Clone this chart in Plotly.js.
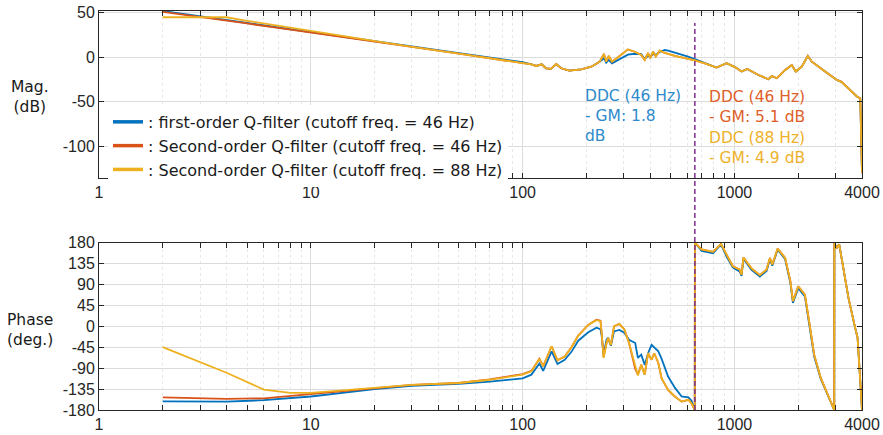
<!DOCTYPE html>
<html>
<head>
<meta charset="utf-8">
<script src="https://cdn.plot.ly/plotly-3.0.1.min.js"></script>
<style>html,body{margin:0;padding:0;background:#fff;}#chart{width:883px;height:435px;}</style>
</head>
<body>
<div id="chart"></div>
<script>
// ---------------- data ----------------
const seriesNames = [
  ': first-order Q-filter (cutoff freq. = 46 Hz)',
  ': Second-order Q-filter (cutoff freq. = 46 Hz)',
  ': Second-order Q-filter (cutoff freq. = 88 Hz)'
];
const xTickVals = [1, 10, 100, 1000, 4000];
const xTickText = ['1', '10', '100', '1000', '4000'];
const magTickVals = [-100, -50, 0, 50];
const magTickText = ['-100', '-50', '0', '50'];
const phaseTickVals = [-180, -135, -90, -45, 0, 45, 90, 135, 180];
const phaseTickText = ['-180', '-135', '-90', '-45', '0', '45', '90', '135', '180'];

const freqMag = [2, 3, 4, 5, 7, 10, 20, 30, 50, 70, 100, 110, 116, 123, 129, 136, 144, 152, 166, 189, 211, 231, 242, 248, 255, 264, 282, 314, 338, 363, 377, 391, 400, 413, 425, 444, 469, 486, 523, 562, 604, 650, 724, 823, 918, 1005, 1081, 1150, 1297, 1446, 1500, 1585, 1735, 1864, 1946, 2078, 2219, 2317, 2679, 3041, 3200, 3452, 3784, 3926, 4000];
const magFirst46 = [52, 46, 41.5, 38, 33, 28, 17.8, 11.8, 4.2, -0.7, -5.5, -8, -9.7, -7.8, -12.3, -13, -7.5, -12.3, -15, -13.5, -10.5, -4.9, -1, -6, -3, -6.7, -3, 3, 4, 3.5, -2, 2, 0, 3.7, 3, 6, 8.2, 7.5, 5.2, 2.5, 0.7, -2, -6, -11.6, -6.7, -11, -16, -13, -19.8, -24.6, -21, -23.5, -14.2, -8.6, -16, -10.5, 1.5, -4.9, -16, -25.4, -27.5, -34.7, -44, -46, -130];
const magSecond46 = [51, 45.5, 41, 38, 33, 28, 17.8, 11.8, 4.2, -0.7, -6, -8, -9.7, -7.8, -12.3, -13, -7.5, -12.3, -15, -13.5, -10.5, -4.9, 3.7, -4.9, 1.5, -5, 0, 8.9, 6.3, 2.6, -3, 4.9, -1, 6.3, 1, 7.4, 5, 3.7, 1.5, 0, -1.5, -3.5, -6.7, -11.6, -6.7, -11, -16, -13, -19.8, -24.6, -21, -23.5, -14.2, -8.6, -16, -10.5, 1.5, -4.9, -16, -25.4, -27.5, -34.7, -44, -46, -130];
const magSecond88 = [45, 45, 45, 41, 35.5, 29, 18, 11.8, 4.2, -0.7, -6, -8, -9.7, -7.8, -12.3, -13, -7.5, -12.3, -15, -13.5, -10.5, -4.9, 3.7, -4.9, 1.5, -5, 0, 8.9, 6.3, 2.6, -3, 4.9, -1, 6.3, 1, 7.4, 5, 3.7, 1.5, 0, -1.5, -3.5, -6.7, -11.6, -6.7, -11, -16, -13, -19.8, -24.6, -21, -23.5, -14.2, -8.6, -16, -10.5, 1.5, -4.9, -16, -25.4, -27.5, -34.7, -44, -46, -130];

const freqPhase = [2, 4, 6, 8, 10, 20, 30, 50, 70, 100, 110, 120, 125, 137, 146, 158, 170, 183, 204, 223, 233, 236, 241, 249, 253, 261, 270, 286, 302, 318, 340, 350, 363, 377, 391, 406, 418, 437, 453, 486, 523, 563, 606, 627, 649.5, 650.5, 700, 792, 864, 918, 983, 1057, 1080, 1103, 1200, 1318, 1418, 1470, 1509, 1600, 1734, 1836, 1888, 1999, 2150, 2263, 2378, 2555, 2700, 2852, 2958, 2962, 3034, 3123, 3300, 3452, 3715, 3813, 3926, 4000];
const phaseFirst46 = [-161.5, -162, -159, -155, -151, -135, -128, -124, -119, -112, -104, -80, -96, -54, -81, -72, -55, -31, -13, -3, -6, -20, -61, -29, -25, -42, -11, -8, -14, -29, -36, -68, -61, -83, -58, -40, -46, -54, -70, -108, -132, -151, -153, -160, -180, 180, 162, 157, 176, 150, 126, 118, 108, 145, 122, 107, 119, 144, 130, 165, 144, 93, 50, 82, 64, -2, -65, -113, -137, -161, -180, 180, 168, 176, 108, 61, -4, -25, -118, -180];
const phaseSecond46 = [-153, -156, -155, -150, -145, -133, -126, -122, -114, -103, -96, -70, -86, -43, -73, -65, -45, -20, 3, 14, 12, -14, -66, -36, -25, -40, 0, 5, -7, -36, -92, -104, -83, -104, -58, -72, -58, -79, -112, -137, -151, -162, -158, -166, -180, 180, 165, 160, 177, 154, 129, 122, 111, 148, 125, 110, 122, 147, 133, 167, 147, 97, 54, 86, 68, 4, -61, -111, -136, -161, -180, 180, 168, 176, 108, 61, -4, -25, -118, -180];
const phaseSecond88 = [-45, -100, -136, -143, -143, -133, -126, -122, -115, -104, -97, -70, -86, -43, -73, -65, -45, -20, 3, 13, 11, -14, -68, -36, -25, -40, 0, 5, -7, -36, -86, -106, -83, -104, -58, -72, -58, -79, -112, -137, -151, -162, -158, -166, -180, 180, 165, 160, 177, 154, 129, 122, 111, 148, 125, 110, 122, 147, 133, 167, 147, 97, 54, 86, 68, 4, -61, -111, -136, -161, -180, 180, 168, 176, 108, 61, -4, -25, -118, -180];

const gmLabels = [
  'DDC (46 Hz)<br>- GM: 1.8<br>dB',
  'DDC (46 Hz)<br>- GM: 5.1 dB',
  'DDC (88 Hz)<br>- GM: 4.9 dB'
];
const crossoverFreq = 650;

// ---------------- styling ----------------
const colors = ['#0072BD', '#D95319', '#EDB120'];
const textColors = ['#2E8ACB', '#DE5F2A', '#EEB12C'];
const tickFont = {family: 'Liberation Sans, Arial, sans-serif', size: 16, color: '#262626'};
const textFont = 'DejaVu Sans, Open Sans, sans-serif';
const textSize = 15.5;

// pixel frame of the plot area
const W = 883, H = 435;
const PL = 99, PR = 861.7, PT = 11, PB = 410.3;
const topBottom = 177.7, botTop = 242.7;
const px2x = px => (px - PL) / (PR - PL);
const py2y = py => (PB - py) / (PB - PT);

const minorVals = [];
[1, 10, 100, 1000].forEach(d => { for (let k = 2; k <= 9; k++) { if (k * d < 4000) minorVals.push(k * d); } });

function xAxis(anchor) {
  return {
    type: 'log', anchor: anchor, domain: [0, 1],
    range: [0, Math.log10(4000)],
    tickmode: 'array', tickvals: xTickVals, ticktext: xTickText,
    ticks: 'inside', ticklen: 5, tickwidth: 1, tickcolor: '#262626',
    showline: true, linecolor: '#262626', linewidth: 1, mirror: 'allticks',
    showgrid: true, gridcolor: '#dcdcdc', gridwidth: 1,
    minor: {tickmode: 'array', tickvals: minorVals, ticks: 'inside', ticklen: 5, tickcolor: '#262626',
            showgrid: true, gridcolor: '#e8e8e8', griddash: 'dot', gridwidth: 1},
    tickfont: tickFont, zeroline: false, fixedrange: true
  };
}
function yAxis(anchor, domain, range, vals, text) {
  return {
    anchor: anchor, domain: domain, range: range,
    tickmode: 'array', tickvals: vals, ticktext: text,
    ticks: 'inside', ticklen: 5, tickwidth: 1, tickcolor: '#262626',
    showline: true, linecolor: '#262626', linewidth: 1, mirror: 'allticks',
    showgrid: true, gridcolor: '#dcdcdc', gridwidth: 1,
    tickfont: tickFont, zeroline: false, fixedrange: true
  };
}

const magSeries = [magFirst46, magSecond46, magSecond88];
const phaseSeries = [phaseFirst46, phaseSecond46, phaseSecond88];
const traces = [];
magSeries.forEach((m, i) => traces.push({
  x: freqMag, y: m, type: 'scatter', mode: 'lines', name: seriesNames[i],
  line: {color: colors[i], width: 1.8}, xaxis: 'x', yaxis: 'y', showlegend: false
}));
phaseSeries.forEach((p, i) => traces.push({
  x: freqPhase, y: p, type: 'scatter', mode: 'lines', name: seriesNames[i],
  line: {color: colors[i], width: 1.8}, xaxis: 'x2', yaxis: 'y2', showlegend: false
}));
// legend entries (thicker key lines, no data of their own)
seriesNames.forEach((n, i) => traces.push({
  x: [null], y: [null], type: 'scatter', mode: 'lines', name: n,
  line: {color: colors[i], width: 3.5}, xaxis: 'x', yaxis: 'y', showlegend: true, hoverinfo: 'skip'
}));

const layout = {
  width: W, height: H,
  margin: {l: PL, r: W - PR, t: PT, b: H - PB, pad: 0},
  paper_bgcolor: '#ffffff', plot_bgcolor: '#ffffff',
  showlegend: true,
  legend: {
    x: px2x(108), y: py2y(105), xanchor: 'left', yanchor: 'top',
    bgcolor: '#ffffff', borderwidth: 0,
    font: {family: textFont, size: 16, color: '#1a1a1a'},
    tracegroupgap: 0
  },
  xaxis: xAxis('y'),
  yaxis: yAxis('x', [py2y(topBottom), 1], [-135, 52], magTickVals, magTickText),
  xaxis2: xAxis('y2'),
  yaxis2: yAxis('x2', [0, py2y(botTop)], [-180, 180], phaseTickVals, phaseTickText),
  shapes: [{
    type: 'line', xref: 'paper', yref: 'paper',
    x0: Math.log10(crossoverFreq) / Math.log10(4000), x1: Math.log10(crossoverFreq) / Math.log10(4000),
    y0: 0, y1: py2y(23),
    line: {color: '#7E2F8E', width: 1.5, dash: '5px,3px'}, layer: 'above'
  }],
  annotations: [
    {text: 'Mag.<br>(dB)', xref: 'paper', yref: 'paper', x: px2x(30), y: py2y(97),
     xanchor: 'center', yanchor: 'middle', showarrow: false, align: 'center',
     font: {family: textFont, size: textSize, color: '#1a1a1a'}},
    {text: 'Phase<br>(deg.)', xref: 'paper', yref: 'paper', x: px2x(30), y: py2y(330),
     xanchor: 'center', yanchor: 'middle', showarrow: false, align: 'center',
     font: {family: textFont, size: textSize, color: '#1a1a1a'}},
    {text: gmLabels[0], xref: 'paper', yref: 'paper', x: px2x(583), y: py2y(116),
     xanchor: 'left', yanchor: 'middle', showarrow: false, align: 'left',
     font: {family: textFont, size: textSize, color: textColors[0]}},
    {text: gmLabels[1], xref: 'paper', yref: 'paper', x: px2x(707), y: py2y(107),
     xanchor: 'left', yanchor: 'middle', showarrow: false, align: 'left',
     font: {family: textFont, size: textSize, color: textColors[1]}},
    {text: gmLabels[2], xref: 'paper', yref: 'paper', x: px2x(707), y: py2y(148),
     xanchor: 'left', yanchor: 'middle', showarrow: false, align: 'left',
     font: {family: textFont, size: textSize, color: textColors[2]}}
  ]
};

Plotly.newPlot('chart', traces, layout, {staticPlot: true, displayModeBar: false});
</script>
</body>
</html>
